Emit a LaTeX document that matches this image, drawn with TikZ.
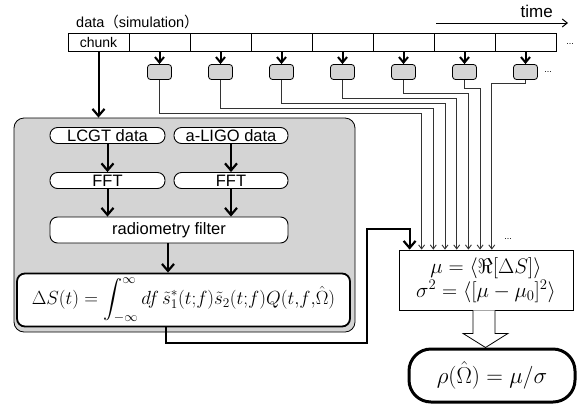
\RequirePackage{fix-cm}
\documentclass[tikz,border=0pt]{standalone}
\usepackage{amsmath,amssymb}
\usepackage{fontspec}
\setmainfont{Liberation Sans}
\newfontfamily\cjk{Noto Sans CJK JP}
\usetikzlibrary{arrows.meta,calc}
\newcommand\fsz[1]{\fontsize{#1}{#1}\selectfont}
\definecolor{boxgray}{HTML}{D4D4D4}
\definecolor{linegray}{HTML}{333333}
\tikzset{
  cell/.style={draw, line width=0.8pt, minimum width=61pt, minimum height=18pt, inner sep=0pt, font=\fsz{14}},
  gbox/.style={draw, line width=0.8pt, fill=boxgray, rounded corners=3pt, minimum width=24pt, minimum height=15pt, inner sep=0pt},
  rnode/.style={draw, line width=0.9pt, fill=white, rounded corners=7.5pt, inner sep=0pt, font=\fsz{16.5}},
  thickarrow/.style={line width=2pt, -{Straight Barb[length=7pt,width=12pt,line width=2.2pt]}},
  smallarrow/.style={line width=2pt, -{Straight Barb[length=5.5pt,width=9pt,line width=2pt]}},
  thinarrow/.style={draw=linegray, line width=0.9pt, -{Straight Barb[length=4pt,width=6pt,line width=0.9pt]}},
  dotsl/.style={font=\fsz{9}, inner sep=0pt}
}
\begin{document}
\begin{tikzpicture}[x=1pt,y=-1pt]
\useasboundingbox (0,0) rectangle (585,410);
% time axis
\draw[line width=1pt, -{Straight Barb[length=5pt,width=8pt,line width=1pt]}] (436,23) -- (568,23);
\node[anchor=base east, font=\fsz{17}, inner sep=0pt] (time) at (553,17) {time};
\node[anchor=base west, font=\fsz{14.5}, inner sep=0pt] (datalbl) at (76,27) {data{\cjk（}simulation{\cjk）}};
% cells
\node[cell] (c0) at (98.5,42) {chunk};
\foreach \i in {1,...,7}{
  \node[cell] (c\i) at (98.5+61*\i,42) {};
  \node[gbox] (g\i) at (98.5+61*\i,72) {};
  \draw[smallarrow] (c\i.south) -- (g\i.north);
}
\node[dotsl] (dots1) at (570,44) {...};
\node[dotsl] (dots2) at (548,72) {...};
% gray container
\node[draw, line width=0.8pt, fill=boxgray, rounded corners=10pt, minimum width=341pt, minimum height=214pt, inner sep=0pt] (cont) at (184.5,225) {};
\draw[thickarrow] (c0.south) -- (cont.north -| c0.south);
% inner nodes
\node[rnode, minimum width=115pt, minimum height=16pt] (lcgt) at (107.5,135.5) {LCGT data};
\node[rnode, minimum width=114pt, minimum height=16pt] (aligo) at (231,135.5) {a-LIGO data};
\node[rnode, minimum width=115pt, minimum height=16pt] (fft1) at (107.5,180.5) {FFT};
\node[rnode, minimum width=114pt, minimum height=16pt] (fft2) at (231,180.5) {FFT};
\node[rnode, minimum width=238pt, minimum height=26pt] (rad) at (169,230) {radiometry filter};
\node[rnode, line width=1.8pt, rounded corners=8pt, minimum width=333pt, minimum height=53pt, font=\fsz{19}] (ds) at (183.5,300)
  {$\displaystyle \Delta S(t) = \int_{-\infty}^{\infty} df\, \tilde{s}_1^{*}(t{;}f)\tilde{s}_2(t{;}f)Q(t{,}f{,}\hat{\Omega})$};
\draw[thickarrow] (lcgt) -- (fft1);
\draw[thickarrow] (aligo) -- (fft2);
\draw[thickarrow] (fft1.south) -- (rad.north -| fft1.south);
\draw[thickarrow] (fft2.south) -- (rad.north -| fft2.south);
\draw[thickarrow] (rad.south -| 168,0) -- (ds.north -| 168,0);
% mu box
\node[draw, line width=0.8pt, fill=white, minimum width=174pt, minimum height=60pt, inner sep=0pt, font=\fsz{21}, align=center] (mu) at (486,280)
  {$\mu = \langle \Re[\Delta S]\rangle$\\[1pt] $\sigma^2 = \langle [\mu-\mu_0]^2\rangle$};
\foreach \i in {1,...,7}{
  \coordinate (t\i) at ($(mu.north west)+(11.3+11.7*\i,0)$);
}
\node[dotsl] (dots3) at (508,239) {...};
% connectors from gray boxes
\foreach \i/\yy in {1/113,2/108,3/103,4/98,5/93,6/88,7/83}{
  \draw[thinarrow] (g\i.south) |- (t\i |- 0,\yy) -- (t\i);
}
% thick connector DS -> mu
\coordinate (t0) at ($(mu.north west)+(11,0)$);
\draw[thickarrow] (ds.south -| 166,0) -- (166,343) -| (367,229) -| (t0);
% rho node
\node[draw, line width=3pt, fill=white, rounded corners=22pt, minimum width=166pt, minimum height=53pt, inner sep=0pt, font=\fsz{23}] (rho) at (492,375.5)
  {$\rho(\hat{\Omega}) = \mu/\sigma$};
% hollow arrow
\draw[line width=0.8pt, fill=white] ($(mu.south)+(-13,0)$) -- ++(0,23) -- ++(-10,0) -- ($(rho.north)+(-6.5,0)$) -- ($(mu.south)+(22,23)$) -- ++(-13,0) -- ($(mu.south)+(9,0)$);
\end{tikzpicture}
\end{document}
